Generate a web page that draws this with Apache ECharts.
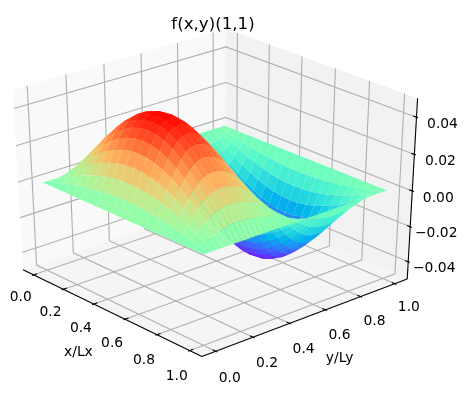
<!DOCTYPE html>
<html><head><meta charset="utf-8">
<style>html,body{margin:0;padding:0;background:#fff}#c{width:465px;height:394px}</style>
<script src="https://cdn.jsdelivr.net/npm/echarts@6/dist/echarts.min.js"></script>
</head><body><div id="c"></div>
<script>
// values
const xValues = [0,0.05,0.1,0.15,0.2,0.25,0.3,0.35,0.4,0.45,0.5,0.55,0.6,0.65,0.7,0.75,0.8,0.85,0.9,0.95,1];
const xProfile = [0,0.156,0.309,0.454,0.588,0.707,0.809,0.891,0.951,0.988,1,0.988,0.951,0.891,0.809,0.707,0.588,0.454,0.309,0.156,0];
const yValues = [0,0.025,0.05,0.075,0.1,0.125,0.15,0.175,0.2,0.225,0.25,0.275,0.3,0.325,0.35,0.375,0.4,0.425,0.45,0.475,0.5,0.525,0.55,0.575,0.6,0.625,0.65,0.675,0.7,0.725,0.75,0.775,0.8,0.825,0.85,0.875,0.9,0.925,0.95,0.975,1];
const zAtMidX = [0,0.0084,0.0164,0.024,0.0309,0.0368,0.0416,0.0451,0.0473,0.048,0.0475,0.046,0.0437,0.0404,0.0363,0.0314,0.0259,0.0199,0.0135,0.0068,0,-0.0075,-0.0148,-0.0218,-0.0282,-0.0339,-0.0388,-0.0428,-0.0457,-0.0474,-0.048,-0.0474,-0.0457,-0.0428,-0.0388,-0.0339,-0.0282,-0.0218,-0.0148,-0.0075,0];
const xTicks = [0,0.2,0.4,0.6,0.8,1];
const yTicks = [0,0.2,0.4,0.6,0.8,1];
const zTicks = [-0.04,-0.02,0,0.02,0.04];
const xLim = [-0.05,1.05], yLim = [-0.05,1.05], zLim = [-0.048,0.048];
const titleText = 'f(x,y)(1,1)', xName = 'x/Lx', yName = 'y/Ly';

// view
const elev = 30*Math.PI/180, azim = -41.5*Math.PI/180, dist = 10;
const SX = 2681, SY = 1998, CX = 214.4, CY = 186.5;
const box = [1,1,1], R = box.map(v=>v/2);
const dir = [Math.cos(elev)*Math.cos(azim), Math.cos(elev)*Math.sin(azim), Math.sin(elev)];
const eye = R.map((r,i)=>r+dist*dir[i]);
const w = dir;
const U = (()=>{const u=[-w[1],w[0],0],n=Math.hypot(u[0],u[1]);return [u[0]/n,u[1]/n,0];})();
const Vv = [w[1]*U[2]-w[2]*U[1], w[2]*U[0]-w[0]*U[2], w[0]*U[1]-w[1]*U[0]];
const dot=(a,b)=>a[0]*b[0]+a[1]*b[1]+a[2]*b[2];
function cam(x,y,z){
  const P=[(x-xLim[0])/(xLim[1]-xLim[0])*box[0]-eye[0],(y-yLim[0])/(yLim[1]-yLim[0])*box[1]-eye[1],(z-zLim[0])/(zLim[1]-zLim[0])*box[2]-eye[2]];
  return [dot(P,U),dot(P,Vv),dot(P,w)];
}
function P2(x,y,z){const c=cam(x,y,z);return [CX+SX*c[0]/(-c[2]),CY-SY*c[1]/(-c[2])];}

const pad=l=>(l[1]-l[0])/48, dl=l=>(l[1]-l[0])/12;
const x0=xLim[0]-pad(xLim), x1=xLim[1]+pad(xLim), y0=yLim[0]-pad(yLim), y1=yLim[1]+pad(yLim), z0=zLim[0]-pad(zLim), z1=zLim[1]+pad(zLim);

function rainbow(t){
  const r=Math.abs(2*t-0.5), g=Math.sin(Math.PI*t), b=Math.cos(Math.PI*t/2);
  const c=v=>Math.round(255*Math.max(0,Math.min(1,v)));
  return `rgb(${c(r)},${c(g)},${c(b)})`;
}
const zGrid = xProfile.map(p=>zAtMidX.map(v=>p*v));
const zAll = zGrid.flat(), zMin=Math.min(...zAll), zMax=Math.max(...zAll);

const cells=[];
for(let i=0;i<xValues.length-1;i++)for(let j=0;j<yValues.length-1;j++){
  const q=[[i,j],[i+1,j],[i+1,j+1],[i,j+1]].map(([a,b])=>[xValues[a],yValues[b],zGrid[a][b]]);
  const mean=q.reduce((s,p)=>s+p[2],0)/4;
  const d=q.reduce((s,p)=>s+cam(p[0],p[1],p[2])[2],0)/4;
  cells.push({q,fill:rainbow((mean-zMin)/(zMax-zMin)),d});
}
cells.sort((a,b)=>a.d-b.d);

const panes=[
 {q:[[x0,y0,z0],[x0,y1,z0],[x0,y1,z1],[x0,y0,z1]],fill:'#f9f9f9'},
 {q:[[x0,y1,z0],[x1,y1,z0],[x1,y1,z1],[x0,y1,z1]],fill:'#f2f2f2'},
 {q:[[x0,y0,z0],[x1,y0,z0],[x1,y1,z0],[x0,y1,z0]],fill:'#f5f5f5'}
];
const grids=[];
xTicks.forEach(t=>grids.push([[t,y0,z0],[t,y1,z0],[t,y1,z1]]));
yTicks.forEach(t=>grids.push([[x1,t,z0],[x0,t,z0],[x0,t,z1]]));
zTicks.forEach(t=>grids.push([[x0,y0,t],[x0,y1,t],[x1,y1,t]]));
const dx=dl(xLim), dy=dl(yLim);
const axes=[[[x0,y0,z0],[x1,y0,z0]],[[x1,y0,z0],[x1,y1,z0]],[[x1,y1,z0],[x1,y1,z1]]];
xTicks.forEach(t=>axes.push([[t,y0-0.1*dy,z0],[t,y0+0.2*dy,z0]]));
yTicks.forEach(t=>axes.push([[x1+0.1*dx,t,z0],[x1-0.2*dx,t,z0]]));
zTicks.forEach(t=>axes.push([[x1+0.1*dx,y1,t],[x1-0.2*dx,y1,t]]));

const fmt2=v=>(v<0?'\u2212':'')+Math.abs(v).toFixed(2);
const labels=[];
xTicks.forEach(t=>labels.push({at:[t,y0,z0],dx:-13,dy:22.5+t*3.5,text:t.toFixed(1)}));
yTicks.forEach(t=>labels.push({at:[x1,t,z0],dx:14,dy:27-t*3,text:t.toFixed(1)}));
zTicks.forEach(t=>labels.push({at:[x1,y1,t],dx:26,dy:7,text:fmt2(t)}));
labels.push({at:[0.5,y0,z0],dx:-31,dy:41,text:xName});
labels.push({at:[x1,0.5,z0],dx:32,dy:42,text:yName});

function polySeries(list){return {type:'custom',coordinateSystem:'cartesian2d',clip:false,silent:true,animation:false,progressive:0,
  data:list.map((_,k)=>[k,0]),
  renderItem:(p,api)=>{const it=list[api.value(0)];
    return {type:'polygon',shape:{points:it.q.map(v=>api.coord(P2(v[0],v[1],v[2])))},style:{fill:it.fill,stroke:it.stroke||null}};}};}
function lineSeries(list,color,width){return {type:'custom',coordinateSystem:'cartesian2d',clip:false,silent:true,animation:false,progressive:0,
  data:list.map((_,k)=>[k,0]),
  renderItem:(p,api)=>{const it=list[api.value(0)];
    return {type:'polyline',shape:{points:it.map(v=>api.coord(P2(v[0],v[1],v[2])))},style:{stroke:color,lineWidth:width,fill:null}};}};}

const chart=echarts.init(document.getElementById('c'),null,{renderer:'canvas'});
chart.setOption({
  animation:false,backgroundColor:'#fff',
  title:{text:titleText,left:208,top:11,textAlign:'center',textStyle:{fontFamily:'DejaVu Sans',fontSize:16.67,fontWeight:'normal',color:'#000',lineHeight:18}},
  grid:{left:0,right:0,top:0,bottom:0},
  xAxis:{type:'value',min:0,max:465,show:false},
  yAxis:{type:'value',min:0,max:394,inverse:true,show:false},
  series:[
    polySeries(panes),
    lineSeries(grids,'#b0b0b0',1.11),
    lineSeries(axes,'#000',1.11),
    polySeries(cells),
    {type:'custom',coordinateSystem:'cartesian2d',clip:false,silent:true,animation:false,progressive:0,
     data:labels.map((_,k)=>[k,0]),
     renderItem:(p,api)=>{const l=labels[api.value(0)],c=api.coord(P2(l.at[0],l.at[1],l.at[2]));
       return {type:'text',style:{text:l.text,x:c[0]+l.dx,y:c[1]+l.dy,fill:'#000',font:'13.89px "DejaVu Sans"',textAlign:'center',textVerticalAlign:'middle'}};}}
  ]
});
</script></body></html>
